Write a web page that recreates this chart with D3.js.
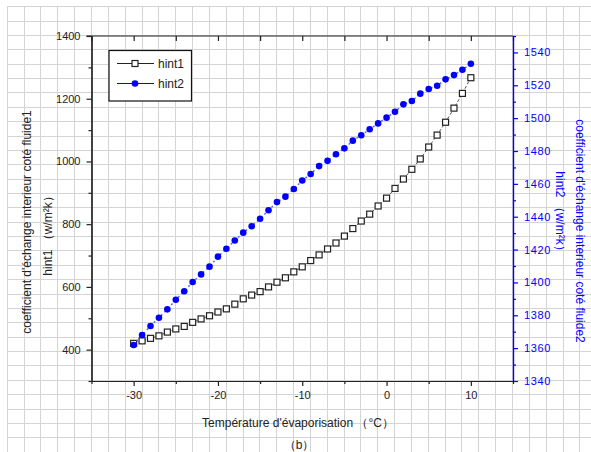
<!DOCTYPE html>
<html>
<head>
<meta charset="utf-8">
<script src="https://cdn.jsdelivr.net/npm/d3@7"></script>
<style>
  html, body { margin: 0; padding: 0; background: #fff; }
  svg { display: block; font-family: "Liberation Sans", Arial, sans-serif; }
</style>
</head>
<body>
<svg id="chart" width="591" height="452"></svg>
<script>
// Evaporation temperature (°C), one reading per degree
const temperatures = d3.range(-30, 11);

// Inside heat-transfer coefficient, fluid 1 (W/m²K) — left axis
const hint1 = [420, 428, 436, 444, 456, 466, 474, 487, 498, 508,
               520, 530, 545, 562, 574, 585, 600, 615, 629, 648,
               664, 684, 702, 721, 740, 762, 786, 810, 832, 858,
               883, 914, 944, 975, 1008, 1046, 1084, 1125, 1170, 1217, 1267];

// Inside heat-transfer coefficient, fluid 2 (W/m²K) — right axis
const hint2 = [1361.9, 1368.0, 1373.5, 1378.5, 1383.6, 1389.5, 1394.6, 1400.3, 1404.9, 1409.6,
               1415.7, 1420.5, 1425.5, 1430.3, 1434.2, 1438.8, 1443.9, 1448.9, 1452.2, 1456.9,
               1462.0, 1466.0, 1470.8, 1474.0, 1478.0, 1481.6, 1486.3, 1489.6, 1493.2, 1496.8,
               1500.3, 1503.9, 1508.4, 1510.4, 1514.9, 1517.7, 1519.7, 1523.6, 1526.2, 1529.5, 1533.1];

const xTicks = [-30, -20, -10, 0, 10];
const xMinorTicks = [-35, -25, -15, -5, 5, 15];
const leftTicks = [400, 600, 800, 1000, 1200, 1400];
const leftMinorTicks = [300, 500, 700, 900, 1100, 1300];
const rightTicks = [1340, 1360, 1380, 1400, 1420, 1440, 1460, 1480, 1500, 1520, 1540];
const rightMinorTicks = [1350, 1370, 1390, 1410, 1430, 1450, 1470, 1490, 1510, 1530, 1550];

const seriesNames = ["hint1", "hint2"];
const xTitle = "Température d'évaporisation （°C）";
const leftTitle1 = "coefficient d'échange interieur coté fluide1";
const leftTitle2 = "hint1 （w/m²k）";
const rightTitle1 = "coefficient d'échange interieur coté fluide2";
const rightTitle2 = "hint2 （w/m²k）";
const caption = "（b）";

const svg = d3.select("#chart");
const W = 591, H = 452;
const BLUE = "#0000ff";
const plot = { left: 91.5, right: 513, top: 36, bottom: 381 };
const plain = d => String(d);

// Graph-paper background
const bg = svg.append("g").attr("stroke", "#d4d4d4").attr("stroke-width", 1).attr("shape-rendering", "crispEdges");
for (let gx = 7.3; gx <= 582; gx += 16.84) {
  bg.append("line").attr("x1", gx).attr("x2", gx).attr("y1", 6.7).attr("y2", H);
}
for (let gy = 6.7; gy <= H; gy += 14.37) {
  bg.append("line").attr("x1", 7.3).attr("x2", W).attr("y1", gy).attr("y2", gy);
}

// Scales
const x = d3.scaleLinear().domain([-35, 15]).range([plot.left, plot.right]);
const yL = d3.scaleLinear().domain([300, 1400]).range([plot.bottom, plot.top]);
const yR = d3.scaleLinear().domain([1340, 1550]).range([plot.bottom, plot.top]);

function styleAxis(g, color) {
  g.select(".domain").attr("stroke", color).attr("stroke-width", 1.2);
  g.selectAll(".tick line").attr("stroke", color).attr("stroke-width", 1.2);
  g.selectAll(".tick text").attr("fill", color).attr("font-size", 11)
    .attr("font-family", "'Liberation Sans', Arial, sans-serif");
}

// Bottom axis
const gB = svg.append("g").attr("transform", `translate(0,${plot.bottom})`)
  .call(d3.axisBottom(x).tickValues(xTicks).tickSize(5).tickSizeOuter(0).tickPadding(5).tickFormat(plain));
styleAxis(gB, "#222");
const gBm = svg.append("g").attr("transform", `translate(0,${plot.bottom})`)
  .call(d3.axisBottom(x).tickValues(xMinorTicks).tickSize(3).tickSizeOuter(0).tickFormat(""));
styleAxis(gBm, "#222");

// Top axis (ticks pointing inward)
const gT = svg.append("g").attr("transform", `translate(0,${plot.top})`)
  .call(d3.axisBottom(x).tickValues(xTicks.concat(xMinorTicks)).tickSize(5).tickSizeOuter(0).tickFormat(""));
styleAxis(gT, "#222");
gT.select(".domain").attr("d", `M${plot.left - 5},0H${plot.right}`);

// Left axis
const gL = svg.append("g").attr("transform", `translate(${plot.left},0)`)
  .call(d3.axisLeft(yL).tickValues(leftTicks).tickSize(5).tickSizeOuter(0).tickPadding(6).tickFormat(plain));
styleAxis(gL, "#222");
const gLm = svg.append("g").attr("transform", `translate(${plot.left},0)`)
  .call(d3.axisLeft(yL).tickValues(leftMinorTicks).tickSize(3).tickSizeOuter(0).tickFormat(""));
styleAxis(gLm, "#222");

// Right axis (blue)
const gR = svg.append("g").attr("transform", `translate(${plot.right},0)`)
  .call(d3.axisRight(yR).tickValues(rightTicks).tickSize(5).tickSizeOuter(0).tickPadding(6).tickFormat(plain));
styleAxis(gR, BLUE);
gR.selectAll(".tick text").attr("letter-spacing", 0.6);
const gRm = svg.append("g").attr("transform", `translate(${plot.right},0)`)
  .call(d3.axisRight(yR).tickValues(rightMinorTicks).tickSize(3).tickSizeOuter(0).tickFormat(""));
styleAxis(gRm, BLUE);

// Series 1: open squares on a dashed black line
const line1 = d3.line().x((d, i) => x(temperatures[i])).y(d => yL(d));
svg.append("path").datum(hint1).attr("d", line1)
  .attr("fill", "none").attr("stroke", "#555").attr("stroke-width", 1)
  .attr("stroke-dasharray", "3,2");
svg.append("g").selectAll("rect").data(hint1).join("rect")
  .attr("x", (d, i) => x(temperatures[i]) - 3)
  .attr("y", d => yL(d) - 3)
  .attr("width", 6).attr("height", 6)
  .attr("fill", "#fff").attr("stroke", "#222").attr("stroke-width", 1.2);

// Series 2: filled blue dots on a dotted blue line
const line2 = d3.line().x((d, i) => x(temperatures[i])).y(d => yR(d));
svg.append("path").datum(hint2).attr("d", line2)
  .attr("fill", "none").attr("stroke", "#6666ff").attr("stroke-width", 1.5)
  .attr("stroke-dasharray", "2,3");
svg.append("g").selectAll("circle").data(hint2).join("circle")
  .attr("cx", (d, i) => x(temperatures[i]))
  .attr("cy", d => yR(d))
  .attr("r", 3.3).attr("fill", BLUE);

// Legend
const lg = svg.append("g");
lg.append("rect").attr("x", 109).attr("y", 50.5).attr("width", 82.5).attr("height", 50.5)
  .attr("fill", "#fff").attr("stroke", "#111").attr("stroke-width", 1.2);
lg.append("line").attr("x1", 117).attr("x2", 154).attr("y1", 63.5).attr("y2", 63.5)
  .attr("stroke", "#222").attr("stroke-width", 1);
lg.append("rect").attr("x", 132).attr("y", 60.5).attr("width", 6).attr("height", 6)
  .attr("fill", "#fff").attr("stroke", "#222").attr("stroke-width", 1.2);
lg.append("text").attr("x", 158).attr("y", 67.5).attr("font-size", 12).attr("fill", "#222").text(seriesNames[0]);
lg.append("line").attr("x1", 117).attr("x2", 154).attr("y1", 83.5).attr("y2", 83.5)
  .attr("stroke", BLUE).attr("stroke-width", 1.2);
lg.append("circle").attr("cx", 135).attr("cy", 83.5).attr("r", 3.3).attr("fill", BLUE);
lg.append("text").attr("x", 158).attr("y", 87.5).attr("font-size", 12).attr("fill", "#222").text(seriesNames[1]);

// Axis titles
svg.append("text").attr("x", 298).attr("y", 427).attr("text-anchor", "middle")
  .attr("font-size", 12).attr("fill", "#222").text(xTitle);
svg.append("text").attr("x", 299).attr("y", 449).attr("text-anchor", "middle")
  .attr("font-size", 12).attr("fill", "#222").text(caption);

svg.append("text").attr("transform", "translate(31,222) rotate(-90)").attr("text-anchor", "middle")
  .attr("font-size", 12).attr("fill", "#222").text(leftTitle1);
svg.append("text").attr("transform", "translate(52,233) rotate(-90)").attr("text-anchor", "middle")
  .attr("font-size", 12).attr("fill", "#222").text(leftTitle2);

svg.append("text").attr("transform", "translate(576,231) rotate(90)").attr("text-anchor", "middle")
  .attr("font-size", 12).attr("fill", BLUE).text(rightTitle1);
svg.append("text").attr("transform", "translate(556,214) rotate(90)").attr("text-anchor", "middle")
  .attr("font-size", 12).attr("fill", BLUE).text(rightTitle2);
</script>
</body>
</html>
